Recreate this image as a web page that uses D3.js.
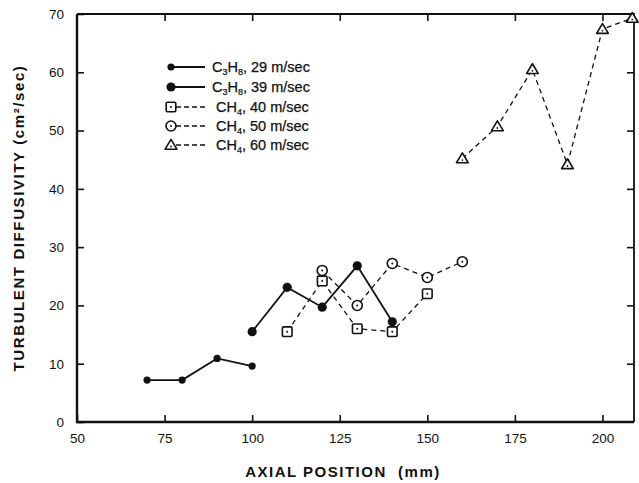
<!DOCTYPE html>
<html>
<head>
<meta charset="utf-8">
<script src="https://cdn.jsdelivr.net/npm/d3@7"></script>
<style>
  html, body { margin: 0; padding: 0; background: #fff; }
  svg { display: block; font-family: "Liberation Sans", Arial, sans-serif; }
</style>
</head>
<body>
<svg id="chart" width="639" height="483"></svg>
<script>
// Axial position (mm) of each measurement station, per run
const c3h8_29_x = [70, 80, 90, 100];
const c3h8_29_y = [7.2, 7.2, 10.9, 9.6];

const c3h8_39_x = [100, 110, 120, 130, 140];
const c3h8_39_y = [15.5, 23.1, 19.7, 26.8, 17.2];

const ch4_40_x = [110, 120, 130, 140, 150];
const ch4_40_y = [15.5, 24.2, 16.0, 15.5, 22.0];

const ch4_50_x = [120, 130, 140, 150, 160];
const ch4_50_y = [26.0, 20.0, 27.2, 24.8, 27.5];

const ch4_60_x = [160, 170, 180, 190, 200, 208.5];
const ch4_60_y = [45.2, 50.7, 60.5, 44.2, 67.4, 69.3];

const xTicks = [50, 75, 100, 125, 150, 175, 200];
const yTicks = [0, 10, 20, 30, 40, 50, 60, 70];

// Legend entries: formula parts alternate element / subscript count
const legendLabels = [
  { gas: ["C", "3", "H", "8"], rest: ", 29 m/sec" },
  { gas: ["C", "3", "H", "8"], rest: ", 39 m/sec" },
  { gas: ["CH", "4"], rest: ", 40 m/sec" },
  { gas: ["CH", "4"], rest: ", 50 m/sec" },
  { gas: ["CH", "4"], rest: ", 60 m/sec" }
];

const series = [
  { x: c3h8_29_x, y: c3h8_29_y, marker: "dotSmall", dashed: false },
  { x: c3h8_39_x, y: c3h8_39_y, marker: "dotLarge", dashed: false },
  { x: ch4_40_x,  y: ch4_40_y,  marker: "square",   dashed: true },
  { x: ch4_50_x,  y: ch4_50_y,  marker: "circle",   dashed: true },
  { x: ch4_60_x,  y: ch4_60_y,  marker: "triangle", dashed: true }
];

const svg = d3.select("#chart");
const pLeft = 77, pRight = 634, pTop = 14, pBottom = 422;

const x = d3.scaleLinear().domain([50, 209]).range([pLeft, pRight]);
const y = d3.scaleLinear().domain([0, 70]).range([pBottom, pTop]);

const ink = "#111";

// Axes with inward ticks on all four sides
const gx = svg.append("g")
  .attr("transform", `translate(0,${pBottom})`)
  .call(d3.axisBottom(x).tickValues(xTicks).tickSizeInner(-7).tickSizeOuter(0).tickPadding(11));
const gxt = svg.append("g")
  .attr("transform", `translate(0,${pTop})`)
  .call(d3.axisTop(x).tickValues(xTicks.slice(1)).tickSizeInner(-7).tickSizeOuter(0).tickFormat(""));
const gy = svg.append("g")
  .attr("transform", `translate(${pLeft},0)`)
  .call(d3.axisLeft(y).tickValues(yTicks).tickSizeInner(-7).tickSizeOuter(0).tickPadding(13));
const gyr = svg.append("g")
  .attr("transform", `translate(${pRight},0)`)
  .call(d3.axisRight(y).tickValues(yTicks.slice(1, -1)).tickSizeInner(-7).tickSizeOuter(0).tickFormat(""));

[gx, gxt, gy, gyr].forEach(g => {
  g.select(".domain").remove();
  g.selectAll(".tick line").attr("stroke", ink).attr("stroke-width", 1.6);
  g.selectAll(".tick text")
    .attr("fill", ink)
    .attr("font-size", 13.5)
    .attr("font-family", "'Liberation Sans', Arial, sans-serif");
});
gx.selectAll(".tick text").attr("dy", "0.75em");

// Plot frame
svg.append("path")
  .attr("d", `M${pLeft},${pTop}H${pRight}V${pBottom}`)
  .attr("fill", "none").attr("stroke", ink).attr("stroke-width", 1.8);
svg.append("path")
  .attr("d", `M${pLeft},${pTop}V${pBottom}H${pRight}`)
  .attr("fill", "none").attr("stroke", ink).attr("stroke-width", 2.4);

// Marker drawing
function drawMarker(g, type, cx, cy) {
  if (type === "dotSmall") {
    g.append("circle").attr("cx", cx).attr("cy", cy).attr("r", 3.6).attr("fill", ink);
  } else if (type === "dotLarge") {
    g.append("circle").attr("cx", cx).attr("cy", cy).attr("r", 4.6).attr("fill", ink);
  } else if (type === "square") {
    g.append("rect").attr("x", cx - 4.8).attr("y", cy - 4.8).attr("width", 9.6).attr("height", 9.6)
      .attr("rx", 1.2).attr("fill", "#fff").attr("stroke", ink).attr("stroke-width", 1.6);
    g.append("circle").attr("cx", cx).attr("cy", cy).attr("r", 1).attr("fill", ink);
  } else if (type === "circle") {
    g.append("circle").attr("cx", cx).attr("cy", cy).attr("r", 5).attr("fill", "#fff")
      .attr("stroke", ink).attr("stroke-width", 1.6);
    g.append("circle").attr("cx", cx).attr("cy", cy).attr("r", 1).attr("fill", ink);
  } else if (type === "triangle") {
    const s = 5.6;
    g.append("path")
      .attr("d", `M${cx},${cy - s}L${cx + s * 1.05},${cy + s * 0.75}L${cx - s * 1.05},${cy + s * 0.75}Z`)
      .attr("fill", "#fff").attr("stroke", ink).attr("stroke-width", 1.6).attr("stroke-linejoin", "round");
    g.append("circle").attr("cx", cx).attr("cy", cy + 1.5).attr("r", 0.9).attr("fill", ink);
  }
}

// Series lines then markers
const line = d3.line().x(d => x(d[0])).y(d => y(d[1]));
series.forEach(s => {
  const pts = s.x.map((v, i) => [v, s.y[i]]);
  svg.append("path")
    .datum(pts)
    .attr("d", line)
    .attr("fill", "none")
    .attr("stroke", ink)
    .attr("stroke-width", s.dashed ? 1.3 : 1.8)
    .attr("stroke-dasharray", s.dashed ? "5,4" : null);
});
series.forEach(s => {
  const g = svg.append("g");
  s.x.forEach((v, i) => drawMarker(g, s.marker, x(v), y(s.y[i])));
});

// Legend
const legendRows = [67, 87, 107, 126, 145];
legendLabels.forEach((lab, i) => {
  const s = series[i];
  const ry = legendRows[i];
  const g = svg.append("g");
  if (s.dashed) {
    g.append("line").attr("x1", 176).attr("x2", 205).attr("y1", ry).attr("y2", ry)
      .attr("stroke", ink).attr("stroke-width", 1.4).attr("stroke-dasharray", "5,3");
  } else {
    g.append("line").attr("x1", 171).attr("x2", 205).attr("y1", ry).attr("y2", ry)
      .attr("stroke", ink).attr("stroke-width", 1.8);
  }
  drawMarker(g, s.marker, 171, ry);
  const t = g.append("text")
    .attr("x", s.dashed ? 216 : 212)
    .attr("y", ry + 5)
    .attr("font-size", 14.5)
    .attr("fill", ink)
    .attr("stroke", ink)
    .attr("stroke-width", 0.25);
  let shifted = false;
  lab.gas.forEach((part, k) => {
    if (k % 2 === 1) {
      t.append("tspan").attr("font-size", 9).attr("dy", 3).text(part);
      shifted = true;
    } else {
      t.append("tspan").attr("dy", shifted ? -3 : 0).text(part);
      shifted = false;
    }
  });
  t.append("tspan").attr("dy", shifted ? -3 : 0).text(lab.rest);
});

// Axis titles
svg.append("text")
  .attr("x", 343).attr("y", 477)
  .attr("text-anchor", "middle")
  .attr("font-size", 15).attr("font-weight", "bold")
  .attr("letter-spacing", 1.5)
  .attr("fill", ink)
  .attr("xml:space", "preserve")
  .text("AXIAL POSITION  (mm)");

svg.append("text")
  .attr("transform", "translate(24,218) rotate(-90)")
  .attr("text-anchor", "middle")
  .attr("font-size", 15).attr("font-weight", "bold")
  .attr("letter-spacing", 1.6)
  .attr("fill", ink)
  .text("TURBULENT DIFFUSIVITY (cm²/sec)");
</script>
</body>
</html>
